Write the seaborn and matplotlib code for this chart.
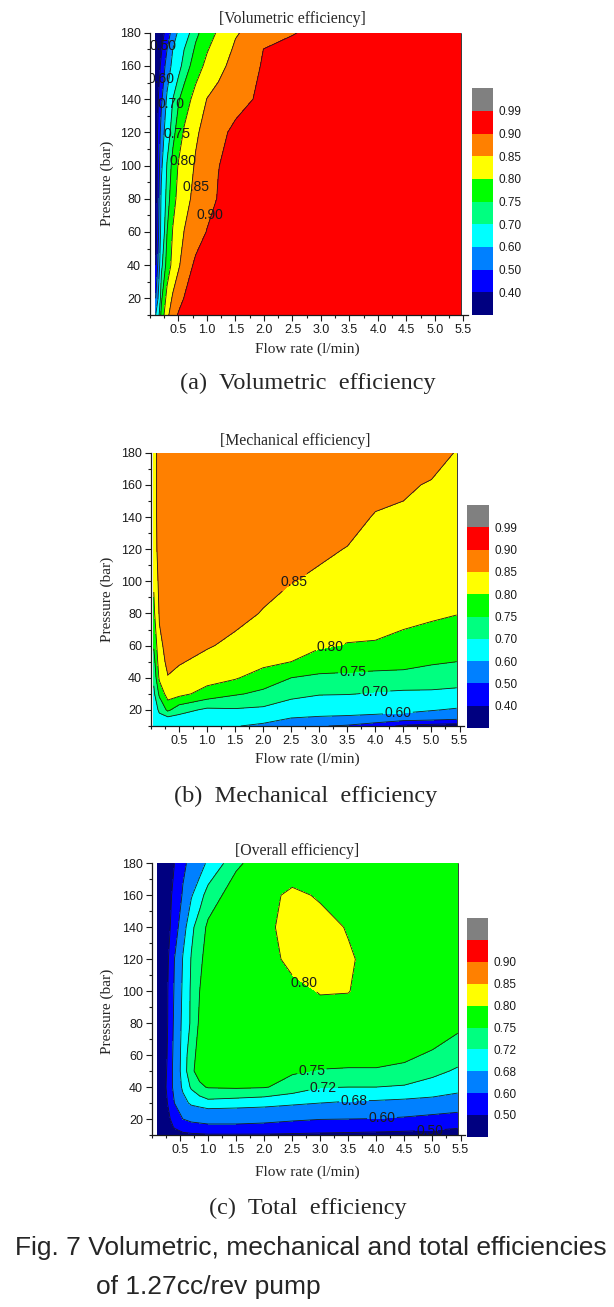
import numpy as np
import matplotlib
matplotlib.use("Agg")
import matplotlib.pyplot as plt
from matplotlib.colors import ListedColormap, BoundaryNorm
from matplotlib.cm import ScalarMappable
from matplotlib.ticker import MultipleLocator, FixedLocator
import seaborn as sns

# ---- values (rows = pressure, cols = flow) ----
vol_flow = [0.1, 0.2, 0.3, 0.4, 0.5, 0.6, 0.8, 1.0, 1.2, 1.5, 2.0, 2.5, 3.0, 4.0, 5.45]
vol_pressure = [10, 20, 40, 60, 80, 100, 120, 140, 160, 170, 180]
vol_eff = [
    [0.60, 0.767, 0.838, 0.877, 0.905, 0.91, 0.915, 0.92, 0.92, 0.925, 0.93, 0.93, 0.93, 0.93, 0.93],
    [0.50, 0.742, 0.818, 0.857, 0.881, 0.902, 0.91, 0.915, 0.92, 0.925, 0.93, 0.93, 0.93, 0.93, 0.93],
    [0.40, 0.686, 0.772, 0.815, 0.844, 0.87, 0.91, 0.915, 0.92, 0.925, 0.93, 0.93, 0.93, 0.93, 0.93],
    [0.35, 0.643, 0.75, 0.803, 0.828, 0.851, 0.877, 0.902, 0.91, 0.92, 0.925, 0.93, 0.93, 0.93, 0.93],
    [0.33, 0.625, 0.725, 0.783, 0.814, 0.834, 0.863, 0.883, 0.903, 0.915, 0.925, 0.93, 0.93, 0.93, 0.93],
    [0.33, 0.583, 0.707, 0.767, 0.804, 0.821, 0.855, 0.877, 0.899, 0.915, 0.925, 0.93, 0.93, 0.93, 0.93],
    [0.33, 0.543, 0.66, 0.733, 0.775, 0.806, 0.843, 0.867, 0.888, 0.91, 0.925, 0.93, 0.93, 0.93, 0.93],
    [0.33, 0.483, 0.617, 0.70, 0.745, 0.774, 0.818, 0.851, 0.864, 0.884, 0.91, 0.925, 0.93, 0.93, 0.93],
    [0.30, 0.425, 0.544, 0.626, 0.679, 0.721, 0.777, 0.812, 0.837, 0.866, 0.905, 0.92, 0.93, 0.93, 0.93],
    [0.30, 0.39, 0.50, 0.60, 0.65, 0.70, 0.758, 0.796, 0.823, 0.857, 0.901, 0.915, 0.925, 0.93, 0.93],
    [0.30, 0.355, 0.445, 0.54, 0.618, 0.664, 0.738, 0.776, 0.807, 0.846, 0.873, 0.897, 0.915, 0.93, 0.93],
]

mech_flow = [0.05, 0.15, 0.3, 0.5, 1.0, 1.5, 2.0, 2.5, 3.0, 3.5, 4.0, 4.5, 5.0, 5.45]
mech_pressure = [10, 15, 20, 30, 40, 50, 60, 80, 100, 120, 140, 160, 180]
mech_eff = [
    [0.65, 0.67, 0.67, 0.66, 0.62, 0.605, 0.58, 0.55, 0.505, 0.49, 0.45, 0.38, 0.36, 0.35],
    [0.66, 0.685, 0.69, 0.685, 0.66, 0.65, 0.64, 0.60, 0.59, 0.585, 0.575, 0.56, 0.55, 0.53],
    [0.67, 0.71, 0.76, 0.72, 0.69, 0.695, 0.69, 0.67, 0.64, 0.635, 0.63, 0.625, 0.605, 0.59],
    [0.69, 0.76, 0.825, 0.815, 0.78, 0.755, 0.74, 0.715, 0.705, 0.703, 0.695, 0.69, 0.69, 0.685],
    [0.71, 0.81, 0.848, 0.84, 0.82, 0.805, 0.775, 0.75, 0.74, 0.74, 0.735, 0.735, 0.73, 0.725],
    [0.73, 0.83, 0.86, 0.853, 0.84, 0.83, 0.815, 0.80, 0.78, 0.77, 0.77, 0.765, 0.755, 0.75],
    [0.755, 0.84, 0.865, 0.86, 0.853, 0.842, 0.828, 0.815, 0.805, 0.798, 0.797, 0.79, 0.785, 0.78],
    [0.79, 0.855, 0.875, 0.87, 0.87, 0.86, 0.848, 0.835, 0.825, 0.82, 0.815, 0.81, 0.805, 0.801],
    [0.805, 0.865, 0.88, 0.88, 0.88, 0.87, 0.86, 0.851, 0.845, 0.84, 0.825, 0.82, 0.82, 0.815],
    [0.825, 0.87, 0.88, 0.885, 0.89, 0.885, 0.87, 0.86, 0.855, 0.849, 0.835, 0.83, 0.83, 0.825],
    [0.83, 0.87, 0.88, 0.89, 0.895, 0.895, 0.88, 0.87, 0.865, 0.86, 0.848, 0.845, 0.84, 0.835],
    [0.83, 0.87, 0.88, 0.89, 0.895, 0.895, 0.89, 0.88, 0.875, 0.87, 0.86, 0.855, 0.847, 0.84],
    [0.83, 0.87, 0.88, 0.89, 0.895, 0.895, 0.895, 0.89, 0.885, 0.88, 0.875, 0.87, 0.865, 0.848],
]

tot_flow = [0.1, 0.25, 0.4, 0.55, 0.7, 0.85, 1.0, 1.5, 2.0, 2.5, 3.0, 3.5, 4.0, 4.5, 5.0, 5.45]
tot_pressure = [10, 15, 20, 30, 40, 50, 60, 80, 100, 120, 140, 160, 180]
tot_eff = [
    [0.40, 0.42, 0.45, 0.47, 0.48, 0.485, 0.49, 0.49, 0.49, 0.485, 0.48, 0.475, 0.47, 0.465, 0.46, 0.45],
    [0.40, 0.43, 0.51, 0.56, 0.575, 0.58, 0.585, 0.585, 0.58, 0.57, 0.56, 0.555, 0.55, 0.54, 0.53, 0.51],
    [0.40, 0.45, 0.55, 0.60, 0.615, 0.62, 0.625, 0.625, 0.62, 0.61, 0.602, 0.60, 0.598, 0.59, 0.575, 0.56],
    [0.40, 0.48, 0.60, 0.66, 0.69, 0.70, 0.71, 0.705, 0.70, 0.69, 0.68, 0.675, 0.672, 0.668, 0.665, 0.655],
    [0.40, 0.50, 0.63, 0.69, 0.725, 0.745, 0.752, 0.754, 0.752, 0.74, 0.722, 0.72, 0.72, 0.717, 0.705, 0.695],
    [0.40, 0.49, 0.635, 0.70, 0.745, 0.76, 0.765, 0.765, 0.76, 0.753, 0.748, 0.746, 0.746, 0.742, 0.73, 0.715],
    [0.40, 0.48, 0.63, 0.70, 0.74, 0.76, 0.77, 0.775, 0.775, 0.77, 0.765, 0.765, 0.765, 0.757, 0.745, 0.735],
    [0.40, 0.47, 0.62, 0.695, 0.725, 0.755, 0.765, 0.775, 0.78, 0.785, 0.785, 0.785, 0.78, 0.78, 0.775, 0.757],
    [0.40, 0.47, 0.61, 0.69, 0.725, 0.75, 0.76, 0.775, 0.78, 0.79, 0.802, 0.801, 0.785, 0.78, 0.78, 0.775],
    [0.40, 0.46, 0.60, 0.683, 0.722, 0.745, 0.76, 0.77, 0.785, 0.81, 0.82, 0.805, 0.785, 0.78, 0.78, 0.775],
    [0.40, 0.45, 0.55, 0.66, 0.712, 0.737, 0.755, 0.77, 0.79, 0.815, 0.815, 0.797, 0.78, 0.78, 0.78, 0.775],
    [0.40, 0.46, 0.52, 0.61, 0.676, 0.706, 0.735, 0.765, 0.785, 0.81, 0.795, 0.78, 0.78, 0.78, 0.78, 0.775],
    [0.40, 0.45, 0.50, 0.58, 0.627, 0.66, 0.689, 0.745, 0.765, 0.77, 0.775, 0.775, 0.775, 0.775, 0.775, 0.77],
]

# colour bands (Origin style rainbow) and class limits
band_colors = ["#000080", "#0000ff", "#0080ff", "#00ffff", "#00ff80",
               "#00ff00", "#ffff00", "#ff8000", "#ff0000", "#808080"]
vol_bounds = [0.0, 0.40, 0.50, 0.60, 0.70, 0.75, 0.80, 0.85, 0.90, 0.99, 1.0]
vol_ticks = [0.40, 0.50, 0.60, 0.70, 0.75, 0.80, 0.85, 0.90, 0.99]
tot_bounds = [0.0, 0.50, 0.60, 0.68, 0.72, 0.75, 0.80, 0.85, 0.90, 0.95, 1.0]
tot_ticks = [0.50, 0.60, 0.68, 0.72, 0.75, 0.80, 0.85, 0.90]

x_ticks = [0.5, 1.0, 1.5, 2.0, 2.5, 3.0, 3.5, 4.0, 4.5, 5.0, 5.5]
y_ticks = [20, 40, 60, 80, 100, 120, 140, 160, 180]

# contour label spots: level -> (flow, pressure)
vol_labels = {0.50: (0.22, 172), 0.60: (0.2, 152), 0.70: (0.37, 137), 0.75: (0.48, 119),
              0.80: (0.58, 103), 0.85: (0.8, 87), 0.90: (1.05, 70)}
mech_labels = {0.85: (2.55, 100), 0.80: (3.2, 59), 0.75: (3.6, 45), 0.70: (4.0, 31), 0.60: (4.4, 18)}
tot_labels = {0.80: (2.7, 104), 0.75: (2.85, 50), 0.72: (3.05, 40), 0.68: (3.6, 32),
              0.60: (4.1, 20), 0.50: (4.95, 14.5)}

sns.set_theme(style="ticks")
plt.rcParams["font.family"] = ["Liberation Sans", "DejaVu Sans"]
SERIF = "Liberation Serif"

W, H = 614, 1307
fig = plt.figure(figsize=(W / 100, H / 100), dpi=100)


def box(l, t, r, b):
    """pixel box (left, top, right, bottom) -> figure fraction rect"""
    return [l / W, 1 - b / H, (r - l) / W, (b - t) / H]


def ftext(x, y, s, **kw):
    fig.text(x / W, 1 - y / H, s, ha=kw.pop("ha", "center"), va=kw.pop("va", "center"), **kw)


def draw_panel(ax_px, cb_px, flow, pressure, eff, bounds, cb_ticks, labels, inline):
    ax = fig.add_axes(box(*ax_px))
    cax = fig.add_axes(box(*cb_px))
    cmap = ListedColormap(band_colors)
    norm = BoundaryNorm(bounds, cmap.N)
    X, Y = np.meshgrid(flow, pressure)
    Z = np.array(eff)
    ax.contourf(X, Y, Z, levels=bounds, cmap=cmap, norm=norm)
    # one line set per level so each label sits on its own line
    for lev in bounds[1:-1]:
        if not (Z.min() < lev < Z.max()):
            continue
        cs = ax.contour(X, Y, Z, levels=[lev], colors="k", linewidths=0.6)
        if lev in labels:
            txts = ax.clabel(cs, manual=[labels[lev]], inline=inline, fmt="%.2f",
                             fontsize=10, inline_spacing=2)
            for t in txts:
                t.set_rotation(0)
                if not inline:
                    t.set_position(labels[lev])
    # right edge of the data block
    ax.plot([flow[-1], flow[-1]], [pressure[0], pressure[-1]], color="k", lw=0.6)

    ax.set_xlim(0, 5.58)
    ax.set_ylim(10, 180)
    ax.xaxis.set_major_locator(FixedLocator(x_ticks))
    ax.xaxis.set_minor_locator(MultipleLocator(0.25))
    ax.yaxis.set_major_locator(FixedLocator(y_ticks))
    ax.yaxis.set_minor_locator(MultipleLocator(10))
    ax.set_xticklabels([f"{v:.1f}" for v in x_ticks])
    ax.set_yticklabels([str(v) for v in y_ticks])
    sns.despine(ax=ax)
    for sp in ("left", "bottom"):
        ax.spines[sp].set_linewidth(0.9)
        ax.spines[sp].set_color("k")
    ax.tick_params(which="major", direction="out", length=4, width=0.8, labelsize=9,
                   pad=2.5, colors="k")
    ax.tick_params(which="minor", direction="out", length=2.5, width=0.8, colors="k")

    sm = ScalarMappable(norm=norm, cmap=cmap)
    cb = fig.colorbar(sm, cax=cax, spacing="uniform", ticks=cb_ticks)
    cb.set_ticklabels([f"{t:.2f}" for t in cb_ticks])
    cb.outline.set_visible(False)
    cax.minorticks_off()
    cax.tick_params(which="both", length=0, labelsize=8.5, pad=4, colors="k")
    return ax


draw_panel((150, 32.7, 468, 315), (471.7, 88.3, 493.3, 315),
           vol_flow, vol_pressure, vol_eff, vol_bounds, vol_ticks, vol_labels, False)
draw_panel((151, 452.7, 464, 726), (467, 505, 489, 728),
           mech_flow, mech_pressure, mech_eff, vol_bounds, vol_ticks, mech_labels, True)
draw_panel((152, 863.3, 465, 1135), (466.7, 918.3, 487.7, 1136.7),
           tot_flow, tot_pressure, tot_eff, tot_bounds, tot_ticks, tot_labels, True)

# titles, axis names and captions
for (tx, ty, title), ly, xy, (cx, cy, cap) in zip(
        [(292, 19, "[Volumetric efficiency]"), (295, 441, "[Mechanical efficiency]"),
         (297, 851, "[Overall efficiency]")],
        [183, 599, 1011],
        [349, 759, 1172],
        [(308, 383, "(a)  Volumetric  efficiency"), (306, 796, "(b)  Mechanical  efficiency"),
         (308, 1208, "(c)  Total  efficiency")]):
    ftext(tx, ty, title, family=SERIF, fontsize=11.3)
    ftext(107, ly, "Pressure (bar)", family=SERIF, fontsize=11, rotation=90)
    ftext(307, xy, "Flow rate (l/min)", family=SERIF, fontsize=11)
    ftext(cx, cy, cap, family=SERIF, fontsize=17.5)

ftext(15, 1248, "Fig. 7 Volumetric, mechanical and total efficiencies", ha="left", fontsize=19)
ftext(96, 1287, "of 1.27cc/rev pump", ha="left", fontsize=19)

fig.savefig("out.png", dpi=100)
